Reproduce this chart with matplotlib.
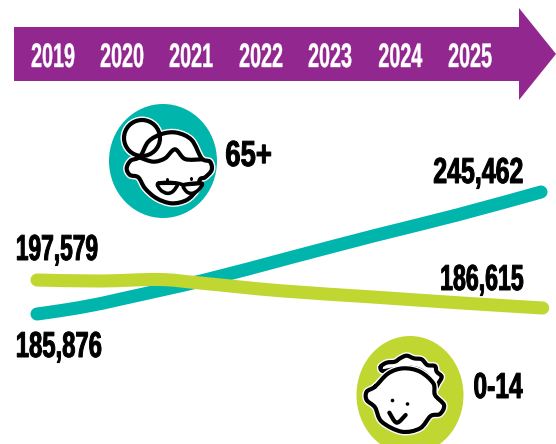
import matplotlib
matplotlib.use('Agg')
import matplotlib.pyplot as plt
from matplotlib.patches import Polygon, Ellipse, PathPatch
from matplotlib.path import Path
from matplotlib.patheffects import AbstractPathEffect
from matplotlib.transforms import Affine2D

years = [2019, 2020, 2021, 2022, 2023, 2024, 2025]
year_px = [53, 122, 191, 261, 330, 400, 470]

# population per year, estimated from the line heights
teal_x = [2019, 2019.33, 2019.67, 2020, 2021, 2022, 2023, 2024, 2025]
teal_vals = [185876, 187830, 190272, 193202, 202482, 213226, 223971, 234228, 245462]
green_x = [2019, 2019.75, 2020.46, 2020.94, 2021.89, 2023, 2024, 2025.02]
green_vals = [197579, 197187, 197775, 196404, 193389, 190922, 188690, 186615]

TEAL = '#00B6AC'
GREEN = '#BFD730'
PURPLE = '#92278F'
FONT = ['Liberation Sans']


class Squeeze(AbstractPathEffect):
    # narrows the glyphs, none of the installed fonts are this condensed
    def __init__(self, sx, anchor='center', extra=0.0):
        super().__init__()
        self.sx = sx
        self.anchor = anchor
        self.extra = extra

    def draw_path(self, renderer, gc, tpath, affine, rgbFace=None):
        box = affine.transform_path(tpath).get_extents()
        cx = {'left': box.x0, 'right': box.x1, 'center': (box.x0 + box.x1) / 2}[self.anchor]
        t = affine + Affine2D().translate(-cx, 0).scale(self.sx, 1).translate(cx, 0)
        gc.set_linewidth(self.extra)
        renderer.draw_path(gc, tpath, t, rgbFace)


def smooth(points, closed=False):
    # catmull-rom through the given points
    n = len(points)
    verts = [points[0]]
    codes = [Path.MOVETO]
    for i in range(n if closed else n - 1):
        if closed:
            p0, p1, p2, p3 = points[i - 1], points[i], points[(i + 1) % n], points[(i + 2) % n]
        else:
            p0, p1, p2, p3 = points[max(i - 1, 0)], points[i], points[i + 1], points[min(i + 2, n - 1)]
        c1 = (p1[0] + (p2[0] - p0[0]) / 6, p1[1] + (p2[1] - p0[1]) / 6)
        c2 = (p2[0] - (p3[0] - p1[0]) / 6, p2[1] - (p3[1] - p1[1]) / 6)
        verts += [c1, c2, p2]
        codes += [Path.CURVE4, Path.CURVE4, Path.CURVE4]
    return Path(verts, codes)


def outline(ax, pts, ox, oy, closed=True, fill='white', lw=3.0, halo=True, z=5):
    # pts are in 3x crop units
    pts = [(ox + x / 3, oy + y / 3) for x, y in pts]
    p = smooth(pts, closed)
    if halo:
        ax.add_patch(PathPatch(p, fc=fill, ec='white', lw=lw + 2.0, zorder=z, capstyle='round'))
    ax.add_patch(PathPatch(p, fc=fill, ec='black', lw=lw, zorder=z, capstyle='round', joinstyle='round'))


def label(ax, x, y, s, size, sx, color='black', ha='center', extra=0.7):
    t = ax.text(x, y, s, fontsize=size, family=FONT, fontweight='bold', color=color,
                ha=ha, va='baseline', zorder=10)
    t.set_path_effects([Squeeze(sx, ha, extra)])
    return t


fig = plt.figure(figsize=(5.56, 4.44), dpi=100)
ax = fig.add_axes([0, 0, 1, 1])
ax.set_xlim(0, 556)
ax.set_ylim(444, 0)
ax.axis('off')

# timeline arrow
ax.add_patch(Polygon([(14, 27), (519, 27), (519, 8), (556, 54), (519, 100), (519, 81), (14, 81)],
                     closed=True, fc=PURPLE, ec='none'))
for x, y in zip(year_px, years):
    label(ax, x, 67, str(y), 24.5, 0.58, color='white', extra=0.3)

# circles
ax.add_patch(Ellipse((163, 161), 108, 114, fc=TEAL, ec='none', zorder=2))
ax.add_patch(Ellipse((410, 395), 107, 118, fc=GREEN, ec='none', zorder=2))

# grandma
gx, gy = 90, 90
ax.add_patch(Ellipse((142, 138), 36, 36, fc='white', ec='white', lw=5, zorder=4))
outline(ax, [(150, 200), (175, 155), (215, 132), (260, 128), (305, 150), (335, 205), (360, 215),
             (365, 240), (345, 262), (330, 268), (320, 300), (290, 330), (245, 340), (200, 325),
             (165, 295), (145, 262), (120, 255), (110, 235), (122, 212)], gx, gy)
ax.add_patch(Ellipse((142, 138), 36, 36, fc='none', ec='black', lw=3.0, zorder=6))
outline(ax, [(150, 203), (190, 215), (225, 205), (255, 178), (285, 207), (335, 208)], gx, gy,
        closed=False, fill='none', halo=False, z=6)
outline(ax, [(205, 280), (212, 300), (232, 310), (250, 303), (260, 280)], gx, gy, lw=2.6, halo=False, z=6)
outline(ax, [(282, 285), (290, 305), (307, 310), (325, 300), (335, 280)], gx, gy, lw=2.6, halo=False, z=6)
outline(ax, [(205, 280), (262, 280), (282, 284), (335, 280)], gx, gy, closed=False, fill='none',
        lw=2.6, halo=False, z=6)
ax.add_patch(Ellipse((167.5, 180), 3, 4, fc='black', ec='none', zorder=6))
ax.add_patch(Ellipse((191.5, 179), 3, 4, fc='black', ec='none', zorder=6))

# baby
bx, by = 340, 320
outline(ax, [(122, 140), (140, 128), (165, 125), (180, 115), (200, 107), (222, 115), (245, 118),
             (262, 135), (285, 138), (290, 155), (305, 170), (295, 190), (283, 208), (270, 175),
             (240, 150), (200, 142), (160, 148), (128, 153)], bx, by, z=4)
outline(ax, [(105, 200), (80, 215), (80, 240), (105, 262), (125, 305), (185, 335), (240, 325),
             (272, 288), (300, 282), (312, 255), (285, 225), (280, 190), (240, 155), (190, 145),
             (145, 160)], bx, by)
outline(ax, [(148, 278), (170, 308), (197, 285)], bx, by, closed=False, fill='none', halo=False, z=6)
ax.add_patch(Ellipse((392.5, 400.5), 3.6, 3.6, fc='black', ec='none', zorder=6))
ax.add_patch(Ellipse((407.5, 404), 3.6, 3.6, fc='black', ec='none', zorder=6))

# the two lines do not share a scale in the picture, so each gets its own y axis
year_w = 84.0
x0 = 37
xlim = (2019 - x0 / year_w, 2019 + (556 - x0) / year_w)


def line_axes(v_a, y_a, v_b, y_b):
    a = fig.add_axes([0, 0, 1, 1], zorder=3)
    per_px = (v_a - v_b) / (y_b - y_a)
    a.set_xlim(xlim)
    a.set_ylim(v_a - (444 - y_a) * per_px, v_a + y_a * per_px)
    a.axis('off')
    a.patch.set_alpha(0)
    return a


ax_teal = line_axes(245462, 192, 185876, 314)
ax_teal.add_patch(PathPatch(smooth(list(zip(teal_x, teal_vals))), fc='none', ec=TEAL, lw=9.4, capstyle='round'))
ax_green = line_axes(197579, 280, 186615, 308)
ax_green.add_patch(PathPatch(smooth(list(zip(green_x, green_vals))), fc='none', ec=GREEN, lw=9.4, capstyle='round'))

# text on top of everything
tx = fig.add_axes([0, 0, 1, 1], zorder=6)
tx.set_xlim(0, 556)
tx.set_ylim(444, 0)
tx.axis('off')
tx.patch.set_alpha(0)
label(tx, 15, 260, '197,579', 26, 0.63, ha='left')
label(tx, 15, 357, '185,876', 26, 0.66, ha='left')
label(tx, 524, 183, '245,462', 26, 0.69, ha='right')
label(tx, 524, 290, '186,615', 26, 0.64, ha='right')
label(tx, 225, 166, '65+', 26, 0.76, ha='left')
label(tx, 473, 398, '0-14', 26, 0.68, ha='left')

fig.savefig('out.png', dpi=100)
